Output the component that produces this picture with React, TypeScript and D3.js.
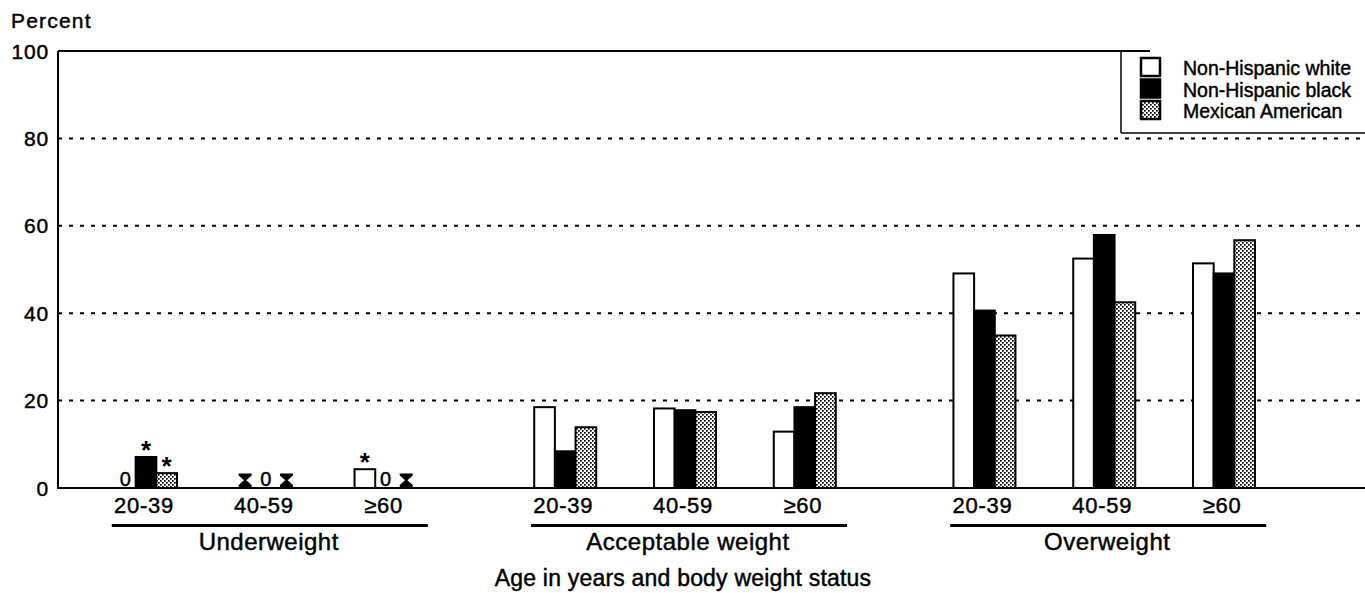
import React from "react";
import * as d3 from "d3";

// ---- data ----
const sections = ["Underweight", "Acceptable weight", "Overweight"];
const ageGroups = ["20-39", "40-59", "≥60"];
const seriesNames = ["Non-Hispanic white", "Non-Hispanic black", "Mexican American"];
// null = data not available (hourglass symbol); 0 = shown as "0"
const whiteValues: (number | null)[] = [0, null, 4.3, 18.5, 18.2, 12.9, 49.1, 52.5, 51.4];
const blackValues: (number | null)[] = [7.1, 0, 0, 8.4, 17.8, 18.5, 40.6, 57.9, 49.1];
const mexicanValues: (number | null)[] = [3.4, null, null, 13.9, 17.4, 21.7, 34.9, 42.5, 56.7];
const whiteNotes = ["", "", "*", "", "", "", "", "", ""];
const blackNotes = ["*", "", "", "", "", "", "", "", ""];
const mexicanNotes = ["*", "", "", "", "", "", "", "", ""];
const yTicks = [0, 20, 40, 60, 80, 100];
const gridTicks = [20, 40, 60, 80];

const FONT = "'Liberation Sans', Arial, Helvetica, sans-serif";
const W = 1365;
const H = 593;

export default function App() {
  const y = d3.scaleLinear().domain([0, 100]).range([488, 51]);
  const slotX = d3.scaleLinear().domain([0, 9]).range([146, 1224]);
  const slotOf = (i: number) => Math.floor(i / 3) * 3.5 + (i % 3);
  const inner = d3.scaleBand<string>().domain(seriesNames).range([-31, 31]).padding(0);
  const bw = inner.bandwidth();
  const fills = ["#ffffff", "#000000", "url(#stipple)"];
  const series = [
    { name: seriesNames[0], values: whiteValues, notes: whiteNotes, fill: fills[0] },
    { name: seriesNames[1], values: blackValues, notes: blackNotes, fill: fills[1] },
    { name: seriesNames[2], values: mexicanValues, notes: mexicanNotes, fill: fills[2] },
  ];
  const cats = d3.range(sections.length * ageGroups.length);
  const x0 = 58;
  const base = y(0);

  const hourglass = "M-6.5,-13.5 H6.5 V-11.5 L1.2,-6.7 L6.5,-2 V0 H-6.5 V-2 L-1.2,-6.7 L-6.5,-11.5 Z";
  const txt = { fill: "#000", stroke: "#000", strokeWidth: 0.45 } as const;

  return (
    <div style={{ position: "absolute", left: 0, top: 0, width: W, height: H, background: "#fff" }}>
      <svg width={W} height={H} style={{ display: "block", fontFamily: FONT }}>
        <defs>
          <pattern id="stipple" width="4" height="4" patternUnits="userSpaceOnUse">
            <rect width="4" height="4" fill="#fff" />
            <rect x="0" y="0" width="1.7" height="1.7" fill="#000" />
            <rect x="2" y="2" width="1.7" height="1.7" fill="#000" />
          </pattern>
        </defs>
        <rect width={W} height={H} fill="#fff" />

        {/* gridlines */}
        {gridTicks.map((t) => (
          <line key={"g" + t} x1={x0} x2={W} y1={y(t)} y2={y(t)} stroke="#000" strokeWidth={2} strokeDasharray="4 7" />
        ))}

        {/* frame */}
        <line x1={x0} x2={x0} y1={y(100)} y2={base + 1} stroke="#000" strokeWidth={2} />
        <line x1={x0} x2={1150} y1={y(100)} y2={y(100)} stroke="#000" strokeWidth={2} />

        {/* y tick labels */}
        {yTicks.map((t) => (
          <text key={"t" + t} x={49} y={y(t) + 7.5} textAnchor="end" fontSize={21} letterSpacing={0.8} {...txt}>
            {t}
          </text>
        ))}
        <text x={11} y={28} fontSize={21} letterSpacing={1.2} {...txt}>Percent</text>

        {/* bars */}
        {cats.map((i) => {
          const cx = slotX(slotOf(i));
          return (
            <g key={"c" + i}>
              {series.map((s) => {
                const v = s.values[i];
                const bx = cx + (inner(s.name) as number);
                const mid = bx + bw / 2;
                if (v === null) {
                  return <path key={s.name} d={hourglass} transform={`translate(${mid},${base - 1})`} fill="#000" />;
                }
                if (v === 0) {
                  return (
                    <text key={s.name} x={mid} y={base - 2} textAnchor="middle" fontSize={20} {...txt}>0</text>
                  );
                }
                return (
                  <g key={s.name}>
                    <rect x={bx} y={y(v)} width={bw} height={base - y(v)} fill={s.fill} stroke="#000" strokeWidth={2} />
                    {s.notes[i] ? (
                      <text x={mid} y={y(v) + 2} textAnchor="middle" fontSize={26} fontWeight="bold" fill="#000">{s.notes[i]}</text>
                    ) : null}
                  </g>
                );
              })}
            </g>
          );
        })}

        {/* baseline */}
        <line x1={x0} x2={W} y1={base} y2={base} stroke="#000" strokeWidth={2} />

        {/* age labels */}
        {cats.map((i) => (
          <text key={"a" + i} x={slotX(slotOf(i)) - 2} y={513} textAnchor="middle" fontSize={22} letterSpacing={0.7} {...txt}>
            {ageGroups[i % 3]}
          </text>
        ))}

        {/* section underlines and labels */}
        {sections.map((sec, k) => {
          const c = slotX(k * 3.5 + 1);
          return (
            <g key={sec}>
              <line x1={c - 154} x2={c + 162} y1={525.5} y2={525.5} stroke="#000" strokeWidth={3} />
              <text x={c + 3} y={550} textAnchor="middle" fontSize={24} letterSpacing={0.5} {...txt}>{sec}</text>
            </g>
          );
        })}

        <text x={683} y={586} textAnchor="middle" fontSize={23} letterSpacing={0.2} {...txt}>
          Age in years and body weight status
        </text>

        {/* legend */}
        <g>
          <line x1={1121} x2={1121} y1={y(100)} y2={133} stroke="#000" strokeWidth={1.5} />
          <line x1={1121} x2={W} y1={133} y2={133} stroke="#000" strokeWidth={1.5} />
          {series.map((s, k) => (
            <g key={"l" + k} transform={`translate(0,${75 + k * 21.5})`}>
              <rect x={1141} y={-17} width={19} height={18} fill={s.fill} stroke="#000" strokeWidth={2.5} />
              <text x={1183} y={0} fontSize={19.5} {...txt}>{s.name}</text>
            </g>
          ))}
        </g>
      </svg>
    </div>
  );
}
